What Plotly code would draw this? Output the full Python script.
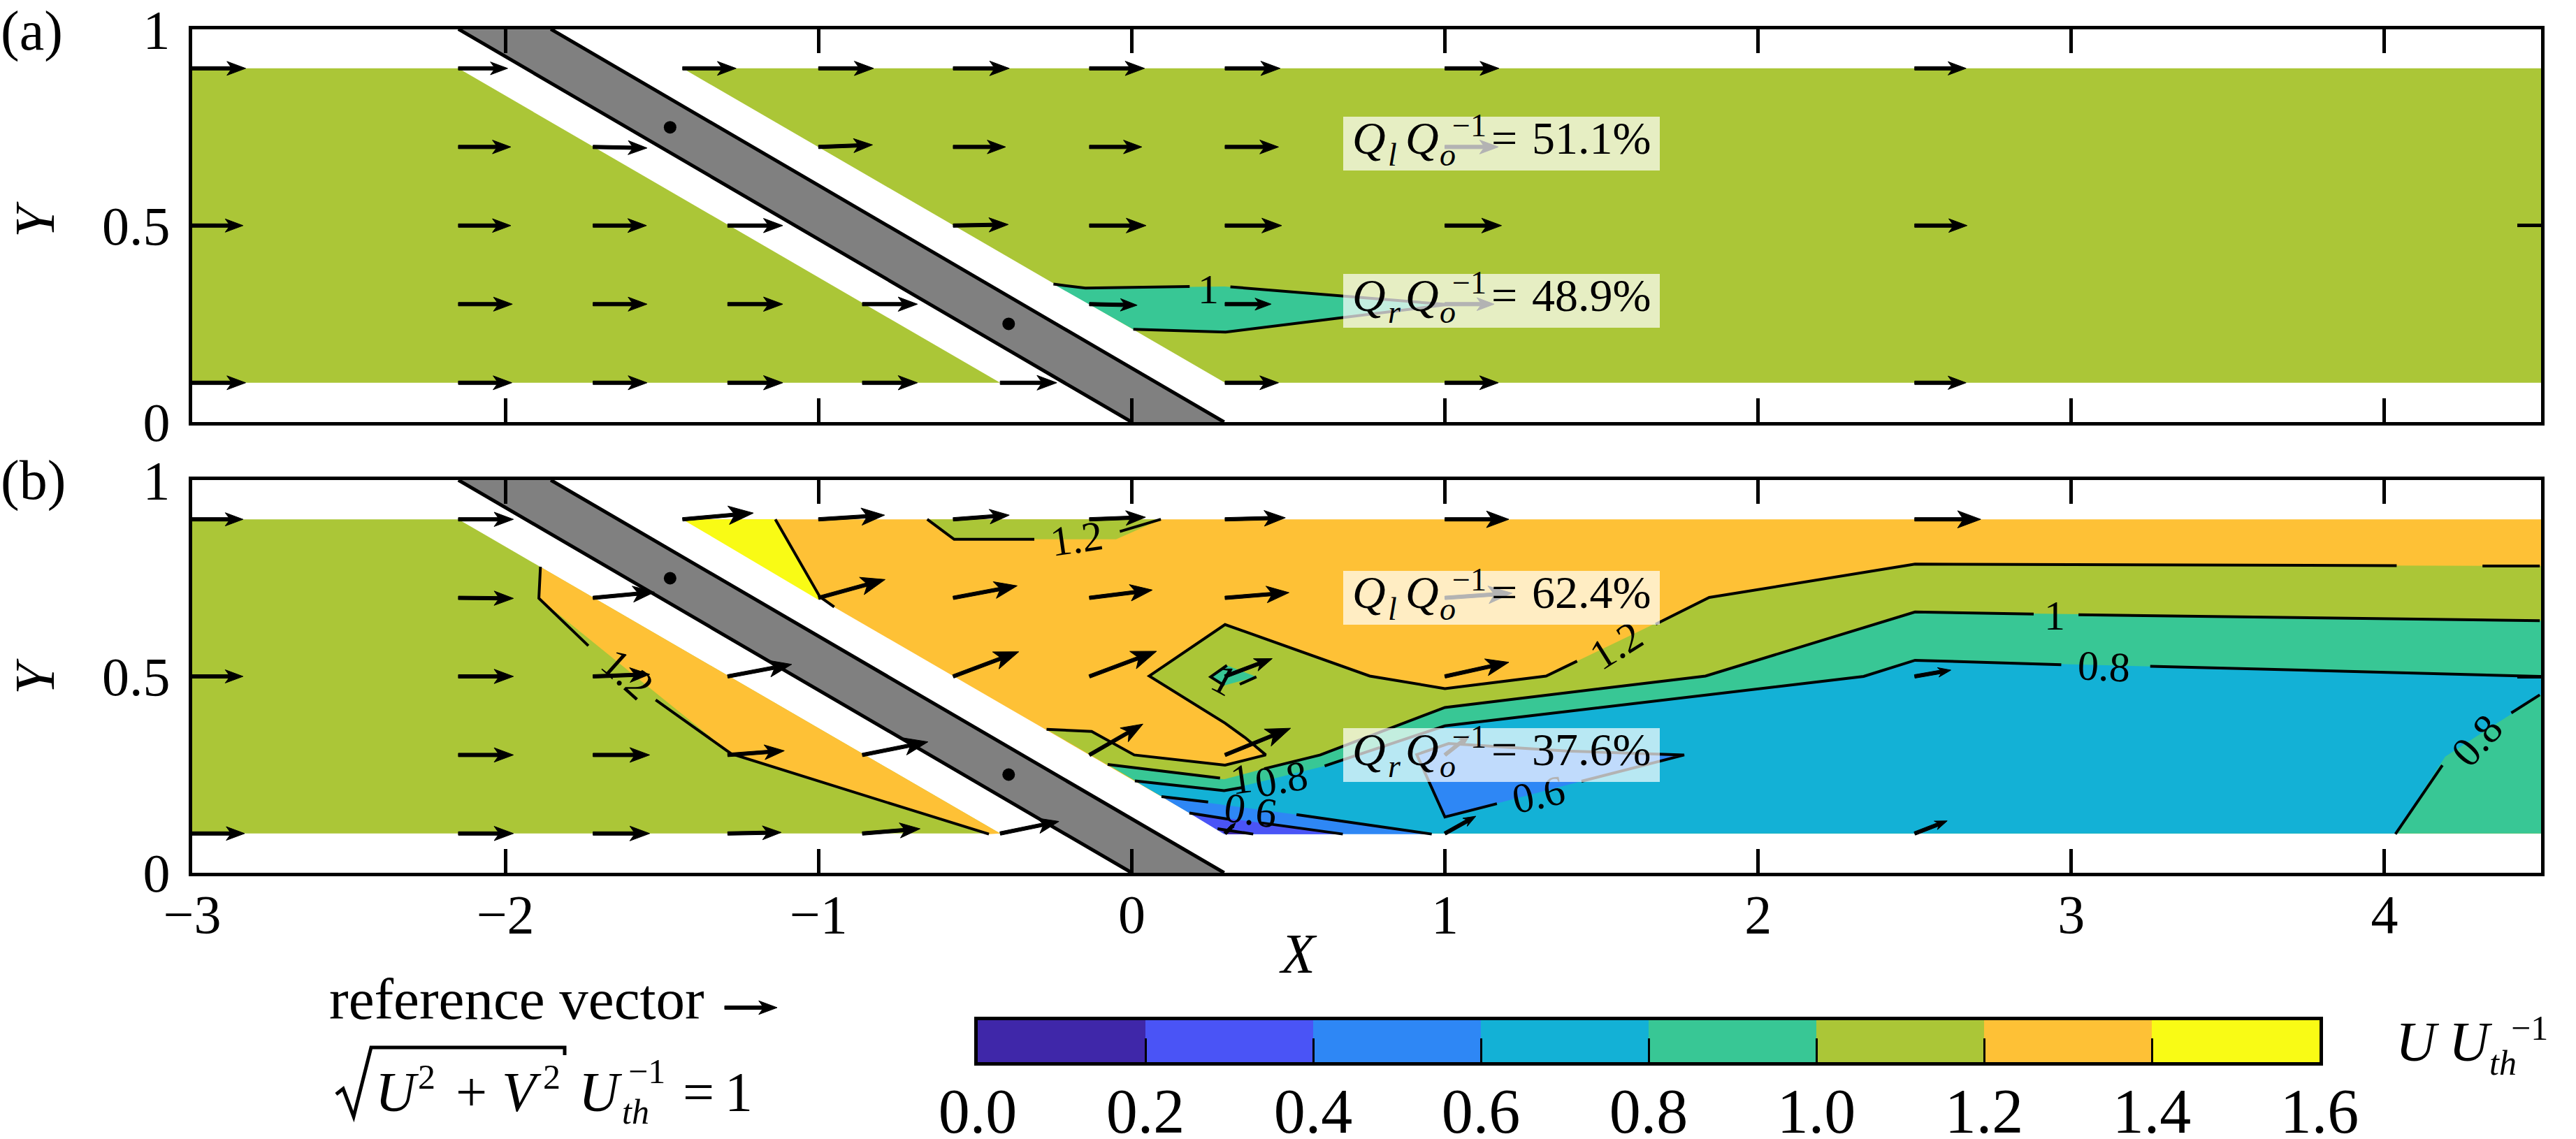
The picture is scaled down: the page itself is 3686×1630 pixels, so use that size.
import math
import plotly.graph_objects as go

W, H = 3686, 1630
L, R = 275, 3636
TOP_A, BOT_A = 41.6, 604
TOP_B, BOT_B = 687, 1249
UNIT = 75  # pixels of arrow length for a unit vector
PX_X = (R - L) / 7.5
PX_Y = (BOT_A - TOP_A) / 1.0

LEVEL_COLORS = ["#3f27a9", "#4a54f6", "#2e87f5", "#13b1d6", "#38c795", "#abc637", "#fec136", "#f9fb15"]
LEVEL_TICKS = [0.0, 0.2, 0.4, 0.6, 0.8, 1.0, 1.2, 1.4, 1.6]
LEVEL_MIDS = [0.1, 0.3, 0.5, 0.7, 0.9, 1.1, 1.3, 1.5]
C_VDARK, C_DBLUE, C_BLUE, C_CYAN, C_TEAL, C_GREEN, C_ORANGE, C_YELLOW = LEVEL_COLORS

# blade and passages
STATOR_X = [-2.15, -1.855, 0.295, 0.0]
STATOR_Y = [1.0, 1.0, 0.0, 0.0]
STATOR_DOT_X = [-1.474, -0.393]
STATOR_DOT_Y = [0.75, 0.25]
INLET_X = [-3, -3, -2.15, -0.42]
INLET_Y = [0.1, 0.9, 0.9, 0.1]
OUTLET_X = [-1.434, 4.5, 4.5, 0.298]
OUTLET_Y = [0.9, 0.9, 0.1, 0.1]

# panel (a) contours
A_TEAL_X = [-0.25, -0.148, 0.296, 1.008, 0.30, 0.005]
A_TEAL_Y = [0.351, 0.341, 0.345, 0.299, 0.229, 0.236]
A_LINES_X = [-0.25, -0.148, 0.185, None, 0.315, 1.008, 0.30, 0.005]
A_LINES_Y = [0.351, 0.341, 0.345, None, 0.344, 0.299, 0.229, 0.236]

# panel (b) regions
B_LEFT_OR_X = [-1.888, -1.893, -1.279, -0.713, -0.456, -0.42]
B_LEFT_OR_Y = [0.779, 0.699, 0.303, 0.162, 0.0985, 0.1]
B_TOPG_X = [-0.653, -0.567, -0.05, 0.093]
B_TOPG_Y = [0.9, 0.849, 0.849, 0.9]
B_YEL_X = [-1.434, -1.138, -0.996, -1.0]
B_YEL_Y = [0.9, 0.9, 0.703, 0.695]
B_G_X = [-0.272, -0.128, 0.008, 0.298, 0.428, 0.364, 0.298, 0.056, 0.298, 0.760, 1.0, 1.323, 1.844, 2.501, 3.307, 4.5, 4.5, 0.298]
B_G_Y = [0.365, 0.360, 0.300, 0.274, 0.300, 0.343, 0.381, 0.501, 0.632, 0.501, 0.469, 0.501, 0.701, 0.786, 0.784, 0.781, 0.1, 0.1]
B_T_X = [-0.077, 0.295, 0.423, 0.602, 1.0, 1.832, 2.501, 4.5, 4.5, 0.298]
B_T_Y = [0.276, 0.238, 0.265, 0.300, 0.421, 0.501, 0.664, 0.642, 0.1, 0.1]
B_ISL_X = [0.304, 0.252, 0.295, 0.398]
B_ISL_Y = [0.528, 0.499, 0.477, 0.499]
B_C_X = [0.010, 0.295, 0.616, 1.0, 2.337, 2.501, 4.5, 4.5, 4.194, 4.035, 0.298]
B_C_Y = [0.234, 0.209, 0.272, 0.374, 0.5, 0.541, 0.5, 0.453, 0.296, 0.1, 0.1]
B_B1_X = [0.095, 0.526, 0.958, 0.298]
B_B1_Y = [0.194, 0.148, 0.0985, 0.0985]
B_B2_X = [0.910, 1.0, 1.436, 1.764, 1.388, 1.012]
B_B2_Y = [0.301, 0.142, 0.233, 0.3, 0.310, 0.329]
B_D_X = [0.184, 0.414, 0.674, 0.295]
B_D_Y = [0.152, 0.127, 0.0985, 0.0985]
B_V_X = [0.274, 0.388, 0.303]
B_V_Y = [0.112, 0.0985, 0.0985]

# panel (b) contour lines, broken where their labels sit
B_LINES = [
    ([-0.272, -0.128, 0.008, 0.298, 0.428, 0.364, 0.298, 0.056, 0.298, 0.760, 1.0, 1.323, 1.422],
     [0.365, 0.360, 0.300, 0.274, 0.300, 0.343, 0.381, 0.501, 0.632, 0.501, 0.469, 0.501, 0.539]),
    ([1.673, 1.844, 2.501, 3.307, 4.039], [0.633, 0.701, 0.786, 0.784, 0.782]),
    ([4.313, 4.496], [0.781, 0.781]),
    ([-0.077, 0.282], [0.276, 0.241]),
    ([0.423, 0.602, 1.0, 1.832, 2.501, 2.880], [0.265, 0.300, 0.421, 0.501, 0.664, 0.659]),
    ([3.023, 4.496], [0.657, 0.642]),
    ([0.010, 0.295, 0.36], [0.234, 0.209, 0.218]),
    ([0.616, 1.0, 2.337, 2.501, 2.968], [0.272, 0.374, 0.5, 0.541, 0.530]),
    ([3.252, 4.496], [0.526, 0.5]),
    ([4.496, 4.405], [0.453, 0.407]),
    ([4.185, 4.035], [0.274, 0.0985]),
    ([0.095, 0.244], [0.194, 0.180]),
    ([0.526, 0.958], [0.148, 0.0985]),
    ([1.166, 1.0, 0.910, 1.012, 1.388, 1.764, 1.436], [0.176, 0.142, 0.301, 0.329, 0.310, 0.3, 0.233]),
    ([0.184, 0.312], [0.152, 0.136]),
    ([0.414, 0.674], [0.127, 0.0985]),
    ([0.274, 0.388], [0.112, 0.0985]),
    ([0.304, 0.252, 0.295], [0.528, 0.499, 0.477]),
    ([0.398, 0.345], [0.499, 0.48]),
    ([-0.653, -0.567, -0.311], [0.9, 0.849, 0.849]),
    ([-0.038, 0.093], [0.869, 0.9]),
    ([-1.138, -0.996, -0.95], [0.9, 0.703, 0.677]),
    ([-1.888, -1.893, -1.735], [0.779, 0.699, 0.578]),
    ([-1.52, -1.279, -0.713, -0.456], [0.44, 0.303, 0.162, 0.0985]),
]

# contour labels
A_LABELS = [("1", 0.244, 0.338, 0)]
B_LABELS = [
    ("1.2", -0.175, 0.851, -8), ("1.2", 1.546, 0.579, -32), ("1", 0.295, 0.492, 28),
    ("1", 0.35, 0.238, -8), ("0.8", 0.478, 0.238, -10), ("0.6", 0.38, 0.158, 8),
    ("0.6", 1.30, 0.2, -12), ("1", 2.946, 0.654, 0), ("0.8", 3.105, 0.525, 3),
    ("0.8", 4.295, 0.336, -48), ("1.2", -1.61, 0.505, 42),
]

# vector tails and components
VEC_X = [-3, -2.15, -1.434, -1.0, -0.57, -0.135, 0.298, 1.0, 2.5,
         -2.15, -1.72, -1.0, -0.57, -0.135, 0.298, 1.0,
         -3, -2.15, -1.72, -1.29, -0.57, -0.135, 0.298, 1.0, 2.5,
         -2.15, -1.72, -1.29, -0.86, -0.135, 0.298, 1.0,
         -3, -2.15, -1.72, -1.29, -0.86, -0.42, 0.298, 1.0, 2.5]
VEC_Y = [0.9] * 9 + [0.7] * 7 + [0.5] * 9 + [0.3] * 7 + [0.1] * 9
A_U = [1.02, 0.94, 1.02, 1.05, 1.07, 1.05, 1.05, 1.03, 0.98,
       1.0, 1.03, 1.03, 1.0, 1.0, 1.02, 1.02,
       0.97, 1.0, 1.02, 1.05, 1.05, 1.08, 1.08, 1.08, 1.0,
       1.03, 1.03, 1.05, 1.05, 0.91, 0.88, 0.94,
       1.02, 1.02, 1.03, 1.05, 1.05, 1.08, 1.02, 1.02, 0.98]
A_V = [0, 0, 0, 0, 0, 0, 0, 0, 0,
       0, -0.02, 0.04, 0, 0, 0, 0,
       0, 0, 0, 0, 0.02, 0, 0, 0, 0,
       0, 0, 0, 0, -0.02, 0, 0,
       0, 0, 0, 0, 0, 0, 0, 0, 0]
B_U = [0.97, 1.05, 1.35, 1.26, 1.07, 1.07, 1.15, 1.22, 1.26,
       1.05, 1.17, 1.27, 1.22, 1.2, 1.22, 1.28,
       0.97, 1.05, 1.08, 1.22, 1.25, 1.28, 0.9, 1.22, 0.69,
       1.05, 1.08, 1.08, 1.25, 1.02, 1.25, 0.47,
       1.0, 1.05, 1.08, 1.02, 1.1, 1.12, 0.2, 0.59, 0.62]
B_V = [0, 0, 0.12, 0.08, 0.08, 0.04, 0.03, 0, 0,
       -0.01, 0.11, 0.35, 0.23, 0.15, 0.1, 0.09,
       0, 0, 0.04, 0.23, 0.47, 0.48, 0.34, 0.27, 0.12,
       0, 0, 0.08, 0.25, 0.59, 0.51, 0.37,
       0, 0, 0, 0.02, 0.09, 0.23, 0.2, 0.33, 0.24]

A_RATIOS = ["51.1%", "48.9%"]
B_RATIOS = ["62.4%", "37.6%"]
RATIO_SUBS = ["l", "r"]

fig = go.Figure()


def fx(p):
    return p / W


def fy(p):
    return 1 - p / H


def poly(xs, ys, color, ax, edge=0):
    fig.add_trace(go.Scatter(x=xs, y=ys, mode="lines", fill="toself", fillcolor=color,
                             line=dict(width=edge, color=color), xaxis=ax[0], yaxis=ax[1],
                             hoverinfo="skip", showlegend=False))


def line(xs, ys, ax, width=4):
    fig.add_trace(go.Scatter(x=xs, y=ys, mode="lines", line=dict(width=width, color="black"),
                             xaxis=ax[0], yaxis=ax[1], hoverinfo="skip", showlegend=False,
                             connectgaps=False))


def blade(ax):
    poly(STATOR_X, STATOR_Y, "#808080", ax)
    line([STATOR_X[0], STATOR_X[3], None, STATOR_X[1], STATOR_X[2]],
         [STATOR_Y[0], STATOR_Y[3], None, STATOR_Y[1], STATOR_Y[2]], ax, width=5)
    fig.add_trace(go.Scatter(x=STATOR_DOT_X, y=STATOR_DOT_Y, mode="markers",
                             marker=dict(size=18, color="black"), xaxis=ax[0], yaxis=ax[1],
                             hoverinfo="skip", showlegend=False))


def arrow_outline(u, v):
    """Outline of one quiver arrow, in pixels from its tail; y grows upward."""
    n = math.hypot(u, v) * UNIT
    ang = math.atan2(v, u)
    hw = 2.5
    pts = [(0, hw), (n * 0.72, hw), (n * 0.65, n * 0.13), (n, 0), (n * 0.65, -n * 0.13), (n * 0.72, -hw), (0, -hw)]
    c, s = math.cos(ang), math.sin(ang)
    return [(a * c - b * s, a * s + b * c) for a, b in pts]


def quiver(us, vs, ax):
    xs, ys = [], []
    for x, y, u, v in zip(VEC_X, VEC_Y, us, vs):
        for a, b in arrow_outline(u, v):
            xs.append(x + a / PX_X)
            ys.append(y + b / PX_Y)
        xs.append(x + arrow_outline(u, v)[0][0] / PX_X)
        ys.append(y + arrow_outline(u, v)[0][1] / PX_Y)
        xs.append(None)
        ys.append(None)
    poly(xs, ys, "black", ax, edge=1)


AX_A, AX_B, AX_C = ("x", "y"), ("x2", "y2"), ("x3", "y3")

# panel (a)
poly(INLET_X, INLET_Y, C_GREEN, AX_A)
poly(OUTLET_X, OUTLET_Y, C_GREEN, AX_A)
poly(A_TEAL_X, A_TEAL_Y, C_TEAL, AX_A)
line(A_LINES_X, A_LINES_Y, AX_A)
blade(AX_A)
quiver(A_U, A_V, AX_A)

# panel (b)
poly(INLET_X, INLET_Y, C_GREEN, AX_B)
poly(B_LEFT_OR_X, B_LEFT_OR_Y, C_ORANGE, AX_B)
poly(OUTLET_X, OUTLET_Y, C_ORANGE, AX_B)
poly(B_TOPG_X, B_TOPG_Y, C_GREEN, AX_B)
poly(B_YEL_X, B_YEL_Y, C_YELLOW, AX_B)
poly(B_G_X, B_G_Y, C_GREEN, AX_B)
poly(B_ISL_X, B_ISL_Y, C_TEAL, AX_B)
poly(B_T_X, B_T_Y, C_TEAL, AX_B)
poly(B_C_X, B_C_Y, C_CYAN, AX_B)
poly(B_B1_X, B_B1_Y, C_BLUE, AX_B)
poly(B_B2_X, B_B2_Y, C_BLUE, AX_B)
poly(B_D_X, B_D_Y, C_DBLUE, AX_B)
poly(B_V_X, B_V_Y, C_VDARK, AX_B)
for xs, ys in B_LINES:
    line(xs, ys, AX_B)
blade(AX_B)
quiver(B_U, B_V, AX_B)

# colour bar
fig.add_trace(go.Heatmap(x=LEVEL_MIDS, y=[0], z=[LEVEL_MIDS], zmin=0, zmax=1.6, showscale=False,
                         colorscale=[[k / 8 if j == 0 else (k + 1) / 8, c]
                                     for k, c in enumerate(LEVEL_COLORS) for j in (0, 1)],
                         xaxis="x3", yaxis="y3", hoverinfo="skip"))

anns = []


def label(x, base, text, size=80, anchor="left", italic=False, angle=0):
    if italic:
        text = "<i>%s</i>" % text
    anns.append(dict(xref="paper", yref="paper", x=fx(x), y=fy(base - 0.34 * size), text=text,
                     showarrow=False, xanchor=anchor, yanchor="middle", borderpad=0, textangle=angle,
                     font=dict(family="Liberation Serif", size=size, color="black")))


def contour_labels(items, ax):
    for t, x, y, ang in items:
        anns.append(dict(xref=ax[0], yref=ax[1], x=x, y=y, text=t, showarrow=False, textangle=ang,
                         font=dict(family="Liberation Serif", size=60, color="black"), borderpad=0))


def ratio_box(top, sub, value):
    anns.append(dict(xref="paper", yref="paper", x=fx(1922), y=fy(top), xanchor="left", yanchor="top",
                     width=453, height=77, text=" ", showarrow=False, borderpad=0, borderwidth=0,
                     bgcolor="rgba(255,255,255,0.7)", font=dict(size=10)))
    base = top + 53
    label(1934, base, "Q", 66, italic=True)
    label(1985, base + 17, sub, 46, italic=True)
    label(2010, base, "Q", 66, italic=True)
    label(2059, base + 17, "o", 46, italic=True)
    label(2077, top + 28, "\u22121", 46)
    label(2133, base, "=", 66)
    label(2191, base, value, 66)


contour_labels(A_LABELS, AX_A)
contour_labels(B_LABELS, AX_B)
ratio_box(167, RATIO_SUBS[0], A_RATIOS[0])
ratio_box(392, RATIO_SUBS[1], A_RATIOS[1])
ratio_box(817, RATIO_SUBS[0], B_RATIOS[0])
ratio_box(1042, RATIO_SUBS[1], B_RATIOS[1])

label(0, 72, "(a)", 80)
label(0, 715, "(b)", 80)
for yc in (314, 968):
    anns.append(dict(xref="paper", yref="paper", x=fx(50), y=fy(yc), text="<i>Y</i>", showarrow=False,
                     textangle=-90, xanchor="center", yanchor="middle",
                     font=dict(family="Liberation Serif", size=80, color="black")))
label(1857, 1392, "X", 80, anchor="center", italic=True)

# legend text
label(470, 1458, "reference vector", 83)
label(536, 1590, "U", 80, italic=True)
label(597, 1558, "2", 50)
label(651, 1590, "+", 80)
label(717, 1590, "V", 80, italic=True)
label(776, 1558, "2", 50)
label(827, 1590, "U", 80, italic=True)
label(889, 1608, "th", 50, italic=True)
label(898, 1550, "\u22121", 50)
label(976, 1590, "=", 80)
label(1036, 1590, "1", 80)
label(3427, 1518, "U", 80, italic=True)
label(3503, 1518, "U", 80, italic=True)
label(3561, 1538, "th", 50, italic=True)
label(3592, 1488, "\u22121", 50)


def paper_path(points, close=False):
    cmds = ["%s %.5f %.5f" % ("M" if i == 0 else "L", fx(px), fy(py)) for i, (px, py) in enumerate(points)]
    return " ".join(cmds) + (" Z" if close else "")


RADICAL = [(481, 1566), (491, 1558), (506, 1598), (531, 1499), (808, 1499), (808, 1510)]
LEGEND_ARROW_AT = (1037, 1442)
legend_arrow = [(LEGEND_ARROW_AT[0] + a, LEGEND_ARROW_AT[1] - b) for a, b in arrow_outline(1, 0)]
shapes = [
    dict(type="path", xref="paper", yref="paper", line=dict(color="black", width=5), path=paper_path(RADICAL)),
    dict(type="path", xref="paper", yref="paper", line=dict(width=1, color="black"), fillcolor="black",
         path=paper_path(legend_arrow, close=True)),
]

axis_common = dict(showline=True, linecolor="black", linewidth=5, mirror="ticks", ticks="inside",
                   ticklen=34, tickwidth=5, tickcolor="black", showgrid=False, zeroline=False,
                   ticklabeloverflow="allow",
                   tickfont=dict(family="Liberation Serif", size=78, color="black"))

fig.update_layout(
    width=W, height=H, margin=dict(l=0, r=0, t=0, b=0, autoexpand=False), paper_bgcolor="white",
    plot_bgcolor="white", hovermode=False, showlegend=False, annotations=anns, shapes=shapes,
    xaxis=dict(domain=[fx(L), fx(R)], range=[-3, 4.5], tickvals=list(range(-3, 5)), showticklabels=False,
               anchor="y", **axis_common),
    yaxis=dict(domain=[fy(BOT_A), fy(TOP_A)], range=[0, 1], tickvals=[0, 0.5, 1], tickmode="array",
               ticktext=["0", "0.5", "1"], ticklabelstandoff=11, anchor="x", **axis_common),
    xaxis2=dict(domain=[fx(L), fx(R)], range=[-3, 4.5], tickvals=list(range(-3, 5)), ticklabelstandoff=-13,
                anchor="y2", **axis_common),
    yaxis2=dict(domain=[fy(BOT_B), fy(TOP_B)], range=[0, 1], tickvals=[0, 0.5, 1], tickmode="array",
                ticktext=["0", "0.5", "1"], ticklabelstandoff=11, anchor="x2", **axis_common),
    xaxis3=dict(domain=[fx(1399), fx(3319)], range=[0, 1.6], tickvals=LEVEL_TICKS, tickformat=".1f",
                anchor="y3", showline=True, linecolor="black", linewidth=5, mirror=True, ticks="inside",
                ticklen=34, tickwidth=3, tickcolor="black", showgrid=False, zeroline=False,
                ticklabeloverflow="allow", ticklabelstandoff=-12,
                tickfont=dict(family="Liberation Serif", size=90, color="black")),
    yaxis3=dict(domain=[fy(1520), fy(1460)], range=[-0.5, 0.5], showticklabels=False, ticks="",
                anchor="x3", showline=True, linecolor="black", linewidth=5, mirror=True,
                showgrid=False, zeroline=False),
)

fig.write_html("out.html", config=dict(displayModeBar=False),
               post_script="document.body.style.margin='0';document.body.style.overflow='hidden';")
